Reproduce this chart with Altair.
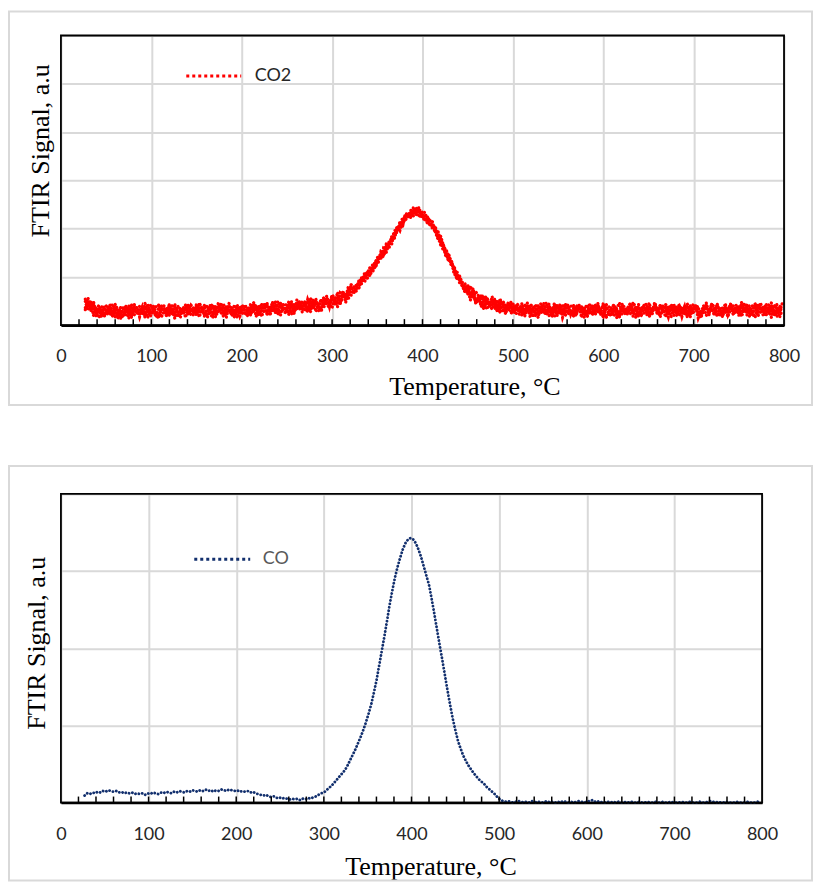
import altair as alt
import pandas as pd

# Temperature readings (deg C)
TEMPS = [
    27, 30, 33, 36, 39, 42, 45, 48, 51, 54, 57, 60, 63, 66, 69, 72, 75, 78, 81, 84,
    87, 90, 93, 96, 99, 102, 105, 108, 111, 114, 117, 120, 123, 126, 129, 132, 135, 138, 141, 144,
    147, 150, 153, 156, 159, 162, 165, 168, 171, 174, 177, 180, 183, 186, 189, 192, 195, 198, 201, 204,
    207, 210, 213, 216, 219, 222, 225, 228, 231, 234, 237, 240, 243, 246, 249, 252, 255, 258, 261, 264,
    267, 270, 273, 276, 279, 282, 285, 288, 291, 294, 297, 300, 303, 306, 309, 312, 315, 318, 321, 324,
    327, 330, 333, 336, 339, 342, 345, 348, 351, 354, 357, 360, 363, 366, 369, 372, 375, 378, 381, 384,
    387, 390, 393, 396, 399, 402, 405, 408, 411, 414, 417, 420, 423, 426, 429, 432, 435, 438, 441, 444,
    447, 450, 453, 456, 459, 462, 465, 468, 471, 474, 477, 480, 483, 486, 489, 492, 495, 498, 501, 504,
    507, 510, 513, 516, 519, 522, 525, 528, 531, 534, 537, 540, 543, 546, 549, 552, 555, 558, 561, 564,
    567, 570, 573, 576, 579, 582, 585, 588, 591, 594, 597, 600, 603, 606, 609, 612, 615, 618, 621, 624,
    627, 630, 633, 636, 639, 642, 645, 648, 651, 654, 657, 660, 663, 666, 669, 672, 675, 678, 681, 684,
    687, 690, 693, 696, 699, 702, 705, 708, 711, 714, 717, 720, 723, 726, 729, 732, 735, 738, 741, 744,
    747, 750, 753, 756, 759, 762, 765, 768, 771, 774, 777, 780, 783, 786, 789, 792, 795, 798,
]

# CO2 FTIR signal (a.u.): four overlapping read-outs of the noisy trace
CO2_SCAN_A = [
    0.49, 0.31, 0.51, 0.32, 0.38, 0.15, 0.29, 0.38, 0.21, 0.43, 0.24, 0.16, 0.34, 0.31, 0.19, 0.40, 0.14, 0.29, 0.38, 0.23,
    0.39, 0.31, 0.20, 0.44, 0.23, 0.34, 0.17, 0.37, 0.42, 0.26, 0.19, 0.36, 0.29, 0.14, 0.40, 0.33, 0.24, 0.43, 0.21, 0.28,
    0.33, 0.23, 0.46, 0.36, 0.20, 0.28, 0.39, 0.43, 0.17, 0.30, 0.37, 0.21, 0.41, 0.26, 0.32, 0.16, 0.38, 0.35, 0.24, 0.42,
    0.23, 0.45, 0.28, 0.39, 0.19, 0.34, 0.43, 0.23, 0.37, 0.28, 0.50, 0.33, 0.21, 0.44, 0.42, 0.29, 0.49, 0.26, 0.39, 0.46,
    0.27, 0.46, 0.49, 0.27, 0.44, 0.54, 0.38, 0.35, 0.45, 0.56, 0.38, 0.63, 0.55, 0.47, 0.45, 0.66, 0.64, 0.53, 0.84, 0.79,
    0.83, 0.77, 1.01, 0.97, 1.12, 1.02, 1.19, 1.33, 1.29, 1.52, 1.47, 1.51, 1.72, 1.80, 1.81, 2.05, 1.96, 2.14, 2.28, 2.23,
    2.38, 2.35, 2.29, 2.44, 2.27, 2.29, 2.12, 2.18, 2.14, 1.94, 1.79, 1.80, 1.63, 1.41, 1.47, 1.30, 1.12, 1.13, 0.88, 0.83,
    0.68, 0.84, 0.62, 0.68, 0.44, 0.55, 0.61, 0.38, 0.50, 0.39, 0.59, 0.41, 0.27, 0.49, 0.44, 0.30, 0.48, 0.24, 0.34, 0.40,
    0.26, 0.40, 0.18, 0.32, 0.43, 0.39, 0.25, 0.16, 0.41, 0.35, 0.29, 0.44, 0.23, 0.46, 0.20, 0.31, 0.28, 0.37, 0.42, 0.22,
    0.35, 0.19, 0.43, 0.28, 0.38, 0.16, 0.31, 0.40, 0.23, 0.45, 0.26, 0.18, 0.36, 0.33, 0.21, 0.42, 0.15, 0.30, 0.39, 0.24,
    0.36, 0.45, 0.18, 0.33, 0.38, 0.20, 0.25, 0.35, 0.46, 0.22, 0.42, 0.32, 0.23, 0.27, 0.43, 0.34, 0.17, 0.40, 0.37, 0.19,
    0.38, 0.31, 0.19, 0.42, 0.23, 0.36, 0.39, 0.16, 0.29, 0.46, 0.25, 0.34, 0.20, 0.41, 0.32, 0.17, 0.37, 0.27, 0.44, 0.22,
    0.41, 0.33, 0.22, 0.46, 0.25, 0.36, 0.19, 0.39, 0.44, 0.28, 0.21, 0.38, 0.31, 0.16, 0.42, 0.35, 0.26, 0.45,
]
CO2_SCAN_B = [
    0.36, 0.56, 0.35, 0.41, 0.17, 0.31, 0.39, 0.18, 0.32, 0.23, 0.44, 0.27, 0.14, 0.37, 0.34, 0.21, 0.41, 0.18, 0.30, 0.37,
    0.17, 0.35, 0.38, 0.15, 0.32, 0.41, 0.25, 0.21, 0.30, 0.40, 0.20, 0.44, 0.33, 0.23, 0.18, 0.36, 0.31, 0.16, 0.43, 0.34,
    0.25, 0.39, 0.17, 0.31, 0.42, 0.38, 0.24, 0.15, 0.40, 0.34, 0.28, 0.43, 0.22, 0.45, 0.19, 0.30, 0.27, 0.36, 0.41, 0.21,
    0.36, 0.20, 0.44, 0.30, 0.40, 0.18, 0.33, 0.43, 0.26, 0.48, 0.30, 0.22, 0.41, 0.38, 0.27, 0.48, 0.22, 0.37, 0.47, 0.32,
    0.49, 0.42, 0.31, 0.56, 0.35, 0.47, 0.30, 0.51, 0.57, 0.42, 0.37, 0.55, 0.51, 0.38, 0.67, 0.63, 0.57, 0.80, 0.62, 0.73,
    0.73, 0.95, 0.90, 1.04, 0.97, 1.13, 1.26, 1.19, 1.37, 1.38, 1.60, 1.58, 1.59, 1.84, 1.91, 1.92, 2.14, 2.06, 2.23, 2.32,
    2.23, 2.38, 2.41, 2.24, 2.33, 2.34, 2.17, 2.08, 2.06, 2.03, 1.80, 1.85, 1.66, 1.47, 1.32, 1.32, 1.16, 0.95, 1.02, 0.87,
    0.79, 0.63, 0.81, 0.67, 0.47, 0.51, 0.59, 0.61, 0.33, 0.44, 0.50, 0.33, 0.52, 0.36, 0.40, 0.23, 0.44, 0.40, 0.27, 0.44,
    0.41, 0.33, 0.22, 0.46, 0.25, 0.36, 0.19, 0.39, 0.44, 0.28, 0.21, 0.38, 0.31, 0.16, 0.42, 0.35, 0.26, 0.45, 0.23, 0.30,
    0.18, 0.36, 0.39, 0.16, 0.33, 0.42, 0.26, 0.22, 0.31, 0.41, 0.21, 0.45, 0.34, 0.24, 0.19, 0.37, 0.32, 0.17, 0.44, 0.35,
    0.25, 0.40, 0.31, 0.16, 0.43, 0.22, 0.34, 0.37, 0.19, 0.27, 0.46, 0.24, 0.41, 0.32, 0.17, 0.39, 0.29, 0.44, 0.20, 0.36,
    0.29, 0.22, 0.44, 0.25, 0.34, 0.41, 0.15, 0.30, 0.37, 0.20, 0.27, 0.43, 0.38, 0.18, 0.35, 0.24, 0.45, 0.21, 0.32, 0.40,
    0.34, 0.24, 0.47, 0.37, 0.21, 0.29, 0.40, 0.44, 0.18, 0.31, 0.38, 0.22, 0.42, 0.27, 0.33, 0.17, 0.39, 0.36,
]
CO2_SCAN_C = [
    0.54, 0.44, 0.29, 0.49, 0.24, 0.34, 0.16, 0.36, 0.41, 0.25, 0.18, 0.35, 0.28, 0.13, 0.39, 0.32, 0.24, 0.43, 0.21, 0.28,
    0.32, 0.22, 0.45, 0.35, 0.19, 0.27, 0.38, 0.42, 0.16, 0.29, 0.36, 0.20, 0.40, 0.25, 0.31, 0.15, 0.37, 0.34, 0.23, 0.41,
    0.35, 0.19, 0.43, 0.28, 0.38, 0.16, 0.31, 0.40, 0.23, 0.45, 0.26, 0.18, 0.36, 0.33, 0.21, 0.42, 0.15, 0.30, 0.39, 0.24,
    0.19, 0.37, 0.40, 0.18, 0.35, 0.44, 0.28, 0.25, 0.34, 0.44, 0.25, 0.49, 0.39, 0.29, 0.25, 0.43, 0.39, 0.24, 0.52, 0.43,
    0.34, 0.49, 0.27, 0.42, 0.53, 0.50, 0.36, 0.28, 0.54, 0.49, 0.45, 0.61, 0.43, 0.68, 0.45, 0.59, 0.59, 0.72, 0.81, 0.65,
    0.86, 0.86, 0.86, 1.09, 1.02, 1.15, 1.10, 1.31, 1.43, 1.40, 1.43, 1.64, 1.68, 1.68, 1.95, 2.00, 2.03, 2.23, 2.17, 2.26,
    2.35, 2.26, 2.44, 2.32, 2.37, 2.16, 2.21, 2.20, 2.00, 2.06, 1.83, 1.67, 1.67, 1.53, 1.33, 1.35, 1.05, 1.04, 0.99, 0.80,
    0.71, 0.79, 0.52, 0.62, 0.69, 0.61, 0.44, 0.33, 0.56, 0.48, 0.41, 0.55, 0.33, 0.55, 0.27, 0.37, 0.33, 0.41, 0.44, 0.23,
    0.23, 0.45, 0.28, 0.38, 0.18, 0.33, 0.42, 0.21, 0.35, 0.26, 0.47, 0.30, 0.17, 0.40, 0.37, 0.24, 0.43, 0.20, 0.32, 0.39,
    0.42, 0.24, 0.35, 0.38, 0.16, 0.32, 0.26, 0.41, 0.21, 0.37, 0.30, 0.17, 0.43, 0.39, 0.28, 0.20, 0.36, 0.46, 0.23, 0.33,
    0.34, 0.24, 0.47, 0.37, 0.21, 0.29, 0.40, 0.44, 0.18, 0.31, 0.38, 0.22, 0.42, 0.27, 0.33, 0.17, 0.39, 0.36, 0.25, 0.43,
    0.25, 0.39, 0.17, 0.31, 0.42, 0.38, 0.24, 0.15, 0.40, 0.34, 0.28, 0.43, 0.22, 0.45, 0.19, 0.30, 0.27, 0.36, 0.41, 0.21,
    0.36, 0.20, 0.44, 0.29, 0.39, 0.17, 0.32, 0.41, 0.24, 0.46, 0.27, 0.19, 0.37, 0.34, 0.22, 0.43, 0.16, 0.31,
]
CO2_SCAN_D = [
    0.32, 0.48, 0.47, 0.20, 0.33, 0.41, 0.24, 0.20, 0.29, 0.39, 0.19, 0.43, 0.32, 0.22, 0.17, 0.35, 0.31, 0.16, 0.43, 0.34,
    0.24, 0.38, 0.16, 0.30, 0.41, 0.37, 0.23, 0.14, 0.39, 0.33, 0.27, 0.42, 0.21, 0.44, 0.18, 0.29, 0.26, 0.35, 0.40, 0.20,
    0.22, 0.44, 0.27, 0.37, 0.17, 0.32, 0.41, 0.20, 0.34, 0.25, 0.46, 0.29, 0.16, 0.39, 0.36, 0.23, 0.42, 0.19, 0.31, 0.38,
    0.34, 0.24, 0.47, 0.38, 0.22, 0.30, 0.41, 0.46, 0.20, 0.33, 0.41, 0.25, 0.46, 0.31, 0.38, 0.22, 0.45, 0.42, 0.32, 0.50,
    0.44, 0.29, 0.53, 0.39, 0.49, 0.28, 0.43, 0.53, 0.37, 0.60, 0.43, 0.36, 0.57, 0.56, 0.47, 0.71, 0.47, 0.66, 0.79, 0.68,
    0.71, 0.89, 0.98, 0.89, 1.08, 1.20, 1.15, 1.21, 1.35, 1.49, 1.44, 1.69, 1.71, 1.74, 1.80, 2.02, 2.07, 2.05, 2.31, 2.30,
    2.25, 2.44, 2.33, 2.39, 2.22, 2.27, 2.28, 2.06, 2.08, 1.92, 1.96, 1.74, 1.54, 1.57, 1.43, 1.22, 1.23, 0.96, 0.94, 0.89,
    0.86, 0.72, 0.56, 0.76, 0.51, 0.58, 0.38, 0.56, 0.59, 0.41, 0.33, 0.49, 0.41, 0.25, 0.49, 0.41, 0.31, 0.49, 0.25, 0.31,
    0.36, 0.20, 0.44, 0.29, 0.39, 0.17, 0.32, 0.41, 0.24, 0.46, 0.27, 0.19, 0.37, 0.34, 0.22, 0.43, 0.16, 0.31, 0.40, 0.25,
    0.21, 0.41, 0.36, 0.27, 0.30, 0.19, 0.45, 0.22, 0.43, 0.28, 0.34, 0.40, 0.15, 0.24, 0.38, 0.42, 0.31, 0.17, 0.39, 0.25,
    0.23, 0.45, 0.28, 0.38, 0.18, 0.33, 0.42, 0.21, 0.35, 0.26, 0.47, 0.30, 0.17, 0.40, 0.37, 0.24, 0.43, 0.20, 0.32, 0.39,
    0.18, 0.36, 0.39, 0.16, 0.33, 0.42, 0.26, 0.22, 0.31, 0.41, 0.21, 0.45, 0.34, 0.24, 0.19, 0.37, 0.32, 0.17, 0.44, 0.35,
    0.26, 0.40, 0.18, 0.32, 0.43, 0.39, 0.25, 0.16, 0.41, 0.35, 0.29, 0.44, 0.23, 0.46, 0.20, 0.31, 0.28, 0.37,
]

# CO FTIR signal (a.u.)
CO_SIGNAL = [
    0.09, 0.12, 0.11, 0.13, 0.12, 0.14, 0.13, 0.15, 0.14, 0.16, 0.15, 0.14, 0.15, 0.13, 0.14, 0.12, 0.13, 0.12, 0.13, 0.11,
    0.12, 0.11, 0.12, 0.10, 0.12, 0.11, 0.13, 0.12, 0.11, 0.13, 0.12, 0.14, 0.13, 0.12, 0.14, 0.13, 0.15, 0.14, 0.13, 0.15,
    0.14, 0.16, 0.15, 0.14, 0.16, 0.15, 0.17, 0.15, 0.16, 0.14, 0.16, 0.15, 0.17, 0.16, 0.15, 0.17, 0.16, 0.15, 0.16, 0.14,
    0.15, 0.14, 0.15, 0.13, 0.14, 0.12, 0.11, 0.10, 0.09, 0.10, 0.08, 0.07, 0.08, 0.06, 0.07, 0.05, 0.06, 0.05, 0.04, 0.05,
    0.04, 0.05, 0.03, 0.05, 0.04, 0.06, 0.05, 0.07, 0.08, 0.10, 0.12, 0.13, 0.16, 0.19, 0.22, 0.26, 0.30, 0.34, 0.38, 0.42,
    0.48, 0.55, 0.62, 0.69, 0.77, 0.85, 0.94, 1.04, 1.15, 1.27, 1.42, 1.58, 1.77, 1.96, 2.15, 2.35, 2.56, 2.74, 2.91, 3.05,
    3.17, 3.28, 3.36, 3.41, 3.43, 3.41, 3.36, 3.28, 3.18, 3.06, 2.94, 2.82, 2.64, 2.45, 2.25, 2.05, 1.86, 1.66, 1.46, 1.27,
    1.09, 0.94, 0.80, 0.70, 0.61, 0.54, 0.48, 0.43, 0.38, 0.34, 0.30, 0.27, 0.24, 0.20, 0.17, 0.14, 0.11, 0.07, 0.04, 0.02,
    0.01, 0.02, 0.01, 0.00, 0.01, 0.02, 0.01, 0.00, 0.01, 0.00, 0.02, 0.01, 0.00, 0.01, 0.00, 0.01, 0.02, 0.00, 0.01, 0.00,
    0.01, 0.00, 0.02, 0.01, 0.00, 0.01, 0.00, 0.01, 0.02, 0.01, 0.00, 0.01, 0.02, 0.03, 0.01, 0.02, 0.00, 0.01, 0.00, 0.01,
    0.00, 0.01, 0.00, 0.01, 0.00, 0.00, 0.01, 0.00, 0.01, 0.00, 0.00, 0.01, 0.00, 0.00, 0.01, 0.00, 0.00, 0.01, 0.00, 0.00,
    0.01, 0.00, 0.00, 0.01, 0.00, 0.00, 0.00, 0.01, 0.00, 0.00, 0.01, 0.00, 0.00, 0.00, 0.01, 0.00, 0.00, 0.01, 0.02, 0.01,
    0.00, 0.01, 0.00, 0.00, 0.01, 0.00, 0.00, 0.00, 0.01, 0.00, 0.00, 0.00, 0.01, 0.00, 0.00, 0.00, 0.01, 0.00,
]

X_LABELS = [0, 100, 200, 300, 400, 500, 600, 700, 800]
X_MINOR_TICKS = [20, 40, 60, 80, 100, 120, 140, 160, 180, 200, 220, 240, 260, 280, 300, 320, 340, 360, 380, 400,
                 420, 440, 460, 480, 500, 520, 540, 560, 580, 600, 620, 640, 660, 680, 700, 720, 740, 760, 780]
Y_GRID_CO2 = [0, 1, 2, 3, 4, 5, 6]
Y_GRID_CO = [0, 1, 2, 3, 4]

SERIF = "Liberation Serif"
SANS = "Lato"
GRID = "#d9d9d9"
DOT = [0.1, 3.4]


def panel(df, name, color, ygrid, width, height, dot_width, legend_x, legend_y, legend_len,
          label_offset, label_color, xtitle_x, xtitle_y, ytitle_x, ytitle_y, label_pad, box):
    xscale = alt.Scale(domain=[X_LABELS[0], X_LABELS[-1]], nice=False)
    yscale = alt.Scale(domain=[ygrid[0], ygrid[-1]], nice=False)
    x_axis = alt.Axis(values=X_LABELS, ticks=False, labelFlush=False, domainColor="black", domainWidth=2.5,
                      gridColor=GRID, gridWidth=2, labelFont=SANS, labelFontSize=18, labelColor="#262626",
                      labelPadding=label_pad, title="Temperature, °C", titleFont=SERIF, titleFontSize=26,
                      titleFontWeight="normal", titleColor="black", titleX=xtitle_x, titleY=xtitle_y,
                      titleAlign="center", titleBaseline="middle")
    y_axis = alt.Axis(values=ygrid, labels=False, ticks=False, domain=False, gridColor=GRID, gridWidth=2,
                      title="FTIR Signal, a.u", titleFont=SERIF, titleFontSize=26, titleFontWeight="normal",
                      titleColor="black", titleX=ytitle_x, titleY=ytitle_y, titleAngle=270, titleAlign="center",
                      titleBaseline="middle")
    xenc = alt.X("T:Q", scale=xscale, axis=x_axis)
    yenc = alt.Y("signal:Q", scale=yscale, axis=y_axis)
    box_rect = alt.Chart(alt.Data(values=[{}])).mark_rect(
        fill="transparent", stroke=GRID, strokeWidth=2
    ).encode(x=alt.value(box[0]), x2=alt.value(box[1]), y=alt.value(box[2]), y2=alt.value(box[3]))
    trace = alt.Chart(df).mark_line(
        strokeDash=DOT, strokeCap="round", strokeWidth=dot_width, interpolate="linear"
    ).encode(
        x=xenc, y=yenc,
        detail="scan:N",
        order="T:Q",
        color=alt.Color("series:N", scale=alt.Scale(domain=[name], range=[color]),
                        legend=alt.Legend(title=None, orient="none", legendX=legend_x, legendY=legend_y,
                                          symbolType="stroke", symbolSize=legend_len ** 2, symbolStrokeWidth=3,
                                          symbolDash=[3, 3], symbolOpacity=1, labelFont=SANS, labelFontSize=18,
                                          labelColor=label_color, labelOffset=label_offset, padding=0)),
    )
    ticks = alt.Chart(pd.DataFrame({"T": X_MINOR_TICKS})).mark_rule(color="black", strokeWidth=1.5).encode(
        x=xenc, y=alt.value(height - 6), y2=alt.value(height),
    )
    frame = alt.Chart(alt.Data(values=[{}])).mark_rect(
        fill="transparent", stroke="black", strokeWidth=1.8
    ).encode(x=alt.value(0), x2=alt.value(width), y=alt.value(0), y2=alt.value(height))
    return alt.layer(box_rect, trace, ticks, frame).properties(width=width, height=height)


co2_df = pd.DataFrame({
    "T": TEMPS * 4,
    "signal": CO2_SCAN_A + CO2_SCAN_B + CO2_SCAN_C + CO2_SCAN_D,
    "scan": ["A"] * len(TEMPS) + ["B"] * len(TEMPS) + ["C"] * len(TEMPS) + ["D"] * len(TEMPS),
    "series": "CO2",
})
co_df = pd.DataFrame({"T": TEMPS, "signal": CO_SIGNAL, "scan": "A", "series": "CO"})

top = panel(co2_df, "CO2", "#ff0000", Y_GRID_CO2, 724, 290, 3.2, 124, 11.5, 55, 12, "#262626",
            414, 61, -20, 115, 22, [-52, 752, -24, 370])
bottom = panel(co_df, "CO", "#13306e", Y_GRID_CO, 702, 309, 2.8, 132, 36, 56, 11, "#595959",
               370, 64, -24, 149, 23, [-52, 752, -28, 387])

chart = alt.concat(top, bottom, columns=1, align="none", spacing=59).resolve_scale(
    color="independent", x="independent", y="independent"
).properties(
    padding={"left": 0, "top": 2, "right": 0, "bottom": 0}
).configure_view(stroke=None)

chart.save("out.html", embed_options={"renderer": "svg", "actions": False})
